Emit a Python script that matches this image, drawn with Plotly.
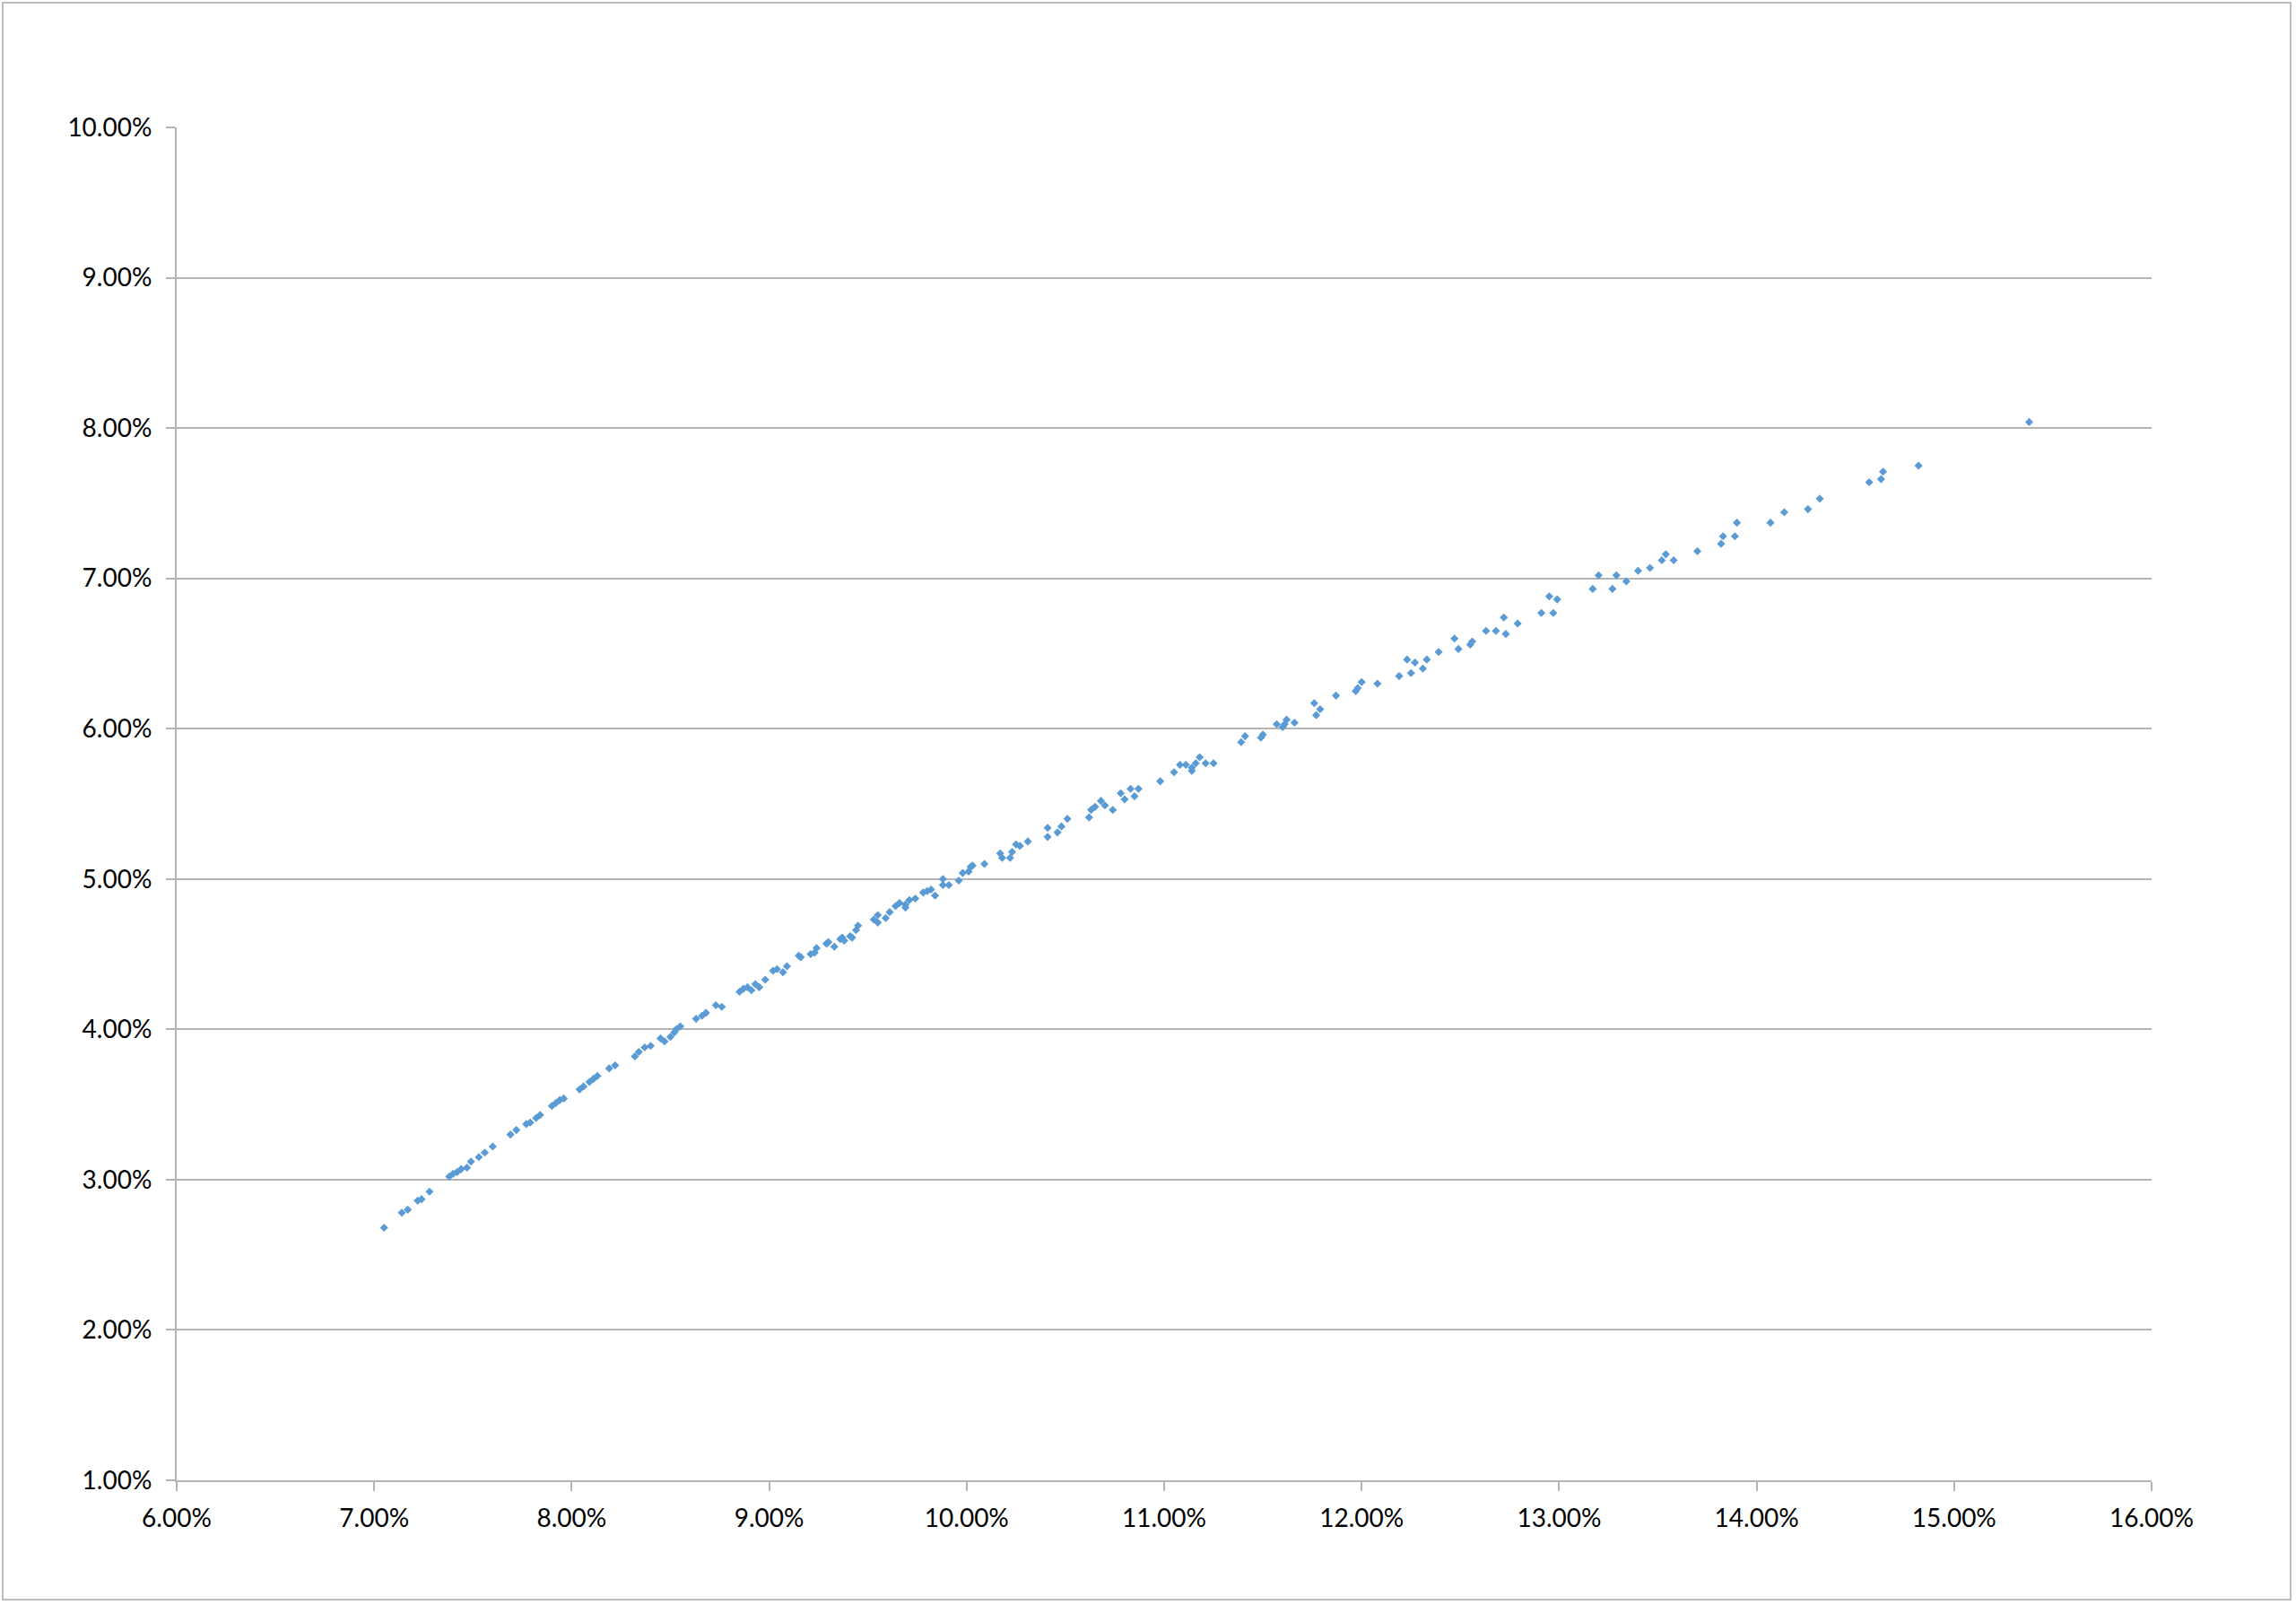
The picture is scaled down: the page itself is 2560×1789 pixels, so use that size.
import plotly.graph_objects as go

# Values (percent units)
x_vals = [
    7.05, 7.14, 7.17, 7.22, 7.24, 7.28, 7.38, 7.40, 7.42, 7.44, 7.47, 7.49, 7.53, 7.56, 7.60,
    7.69, 7.72, 7.77, 7.79, 7.82, 7.84, 7.90, 7.92, 7.94, 7.96, 8.04, 8.06, 8.09, 8.11, 8.13,
    8.19, 8.22, 8.32, 8.34, 8.37, 8.40, 8.45, 8.47, 8.50, 8.52, 8.53, 8.55, 8.63, 8.66, 8.68,
    8.73, 8.76, 8.85, 8.87, 8.89, 8.91, 8.93, 8.95, 8.98, 9.02, 9.04, 9.07, 9.09,
    9.16, 9.15, 9.21, 9.23, 9.24, 9.29, 9.30, 9.33, 9.36, 9.37, 9.38, 9.41, 9.42, 9.44, 9.45,
    9.53, 9.55, 9.55, 9.59, 9.61, 9.64, 9.66, 9.69, 9.69, 9.71, 9.74, 9.78, 9.80, 9.82, 9.84,
    9.88, 9.88, 9.91, 9.96, 9.98, 10.01, 10.02, 10.03, 10.09, 10.17, 10.18, 10.22, 10.23, 10.25,
    10.27, 10.31, 10.41, 10.41, 10.46, 10.48, 10.51, 10.62, 10.63, 10.65, 10.68, 10.70, 10.74,
    10.78, 10.80, 10.83, 10.85, 10.87, 10.98, 11.05, 11.08, 11.11, 11.14, 11.14, 11.16, 11.18,
    11.21, 11.25, 11.39, 11.41,
    11.49, 11.50, 11.57, 11.60, 11.61, 11.62, 11.66,
    11.76, 11.79, 11.77, 11.87, 11.97, 11.98, 12.00, 12.08, 12.19, 12.23, 12.25, 12.27, 12.31,
    12.33, 12.39, 12.47, 12.49, 12.55, 12.56, 12.63, 12.68, 12.72, 12.73, 12.79, 12.91, 12.95,
    12.97, 12.99, 13.17, 13.20, 13.27, 13.29, 13.34, 13.40, 13.46, 13.52, 13.54, 13.58, 13.70,
    13.82, 13.83, 13.89, 13.90, 14.07, 14.14, 14.26, 14.32,
    14.57, 14.63, 14.64, 14.82, 15.38,
]
y_vals = [
    2.68, 2.78, 2.80, 2.86, 2.87, 2.92, 3.02, 3.04, 3.05, 3.07, 3.08, 3.12, 3.15, 3.18, 3.22,
    3.30, 3.33, 3.37, 3.38, 3.41, 3.43, 3.49, 3.51, 3.53, 3.54, 3.60, 3.62, 3.65, 3.67, 3.69,
    3.74, 3.76, 3.82, 3.85, 3.88, 3.89, 3.94, 3.92, 3.95, 3.98, 4.00, 4.02, 4.07, 4.09, 4.11,
    4.16, 4.15, 4.25, 4.27, 4.28, 4.26, 4.30, 4.28, 4.33, 4.39, 4.40, 4.38, 4.42,
    4.48, 4.49, 4.50, 4.51, 4.54, 4.57, 4.58, 4.55, 4.60, 4.61, 4.59, 4.62, 4.61, 4.66, 4.69,
    4.73, 4.71, 4.76, 4.74, 4.78, 4.82, 4.84, 4.83, 4.81, 4.86, 4.87, 4.91, 4.92, 4.93, 4.89,
    5.00, 4.96, 4.96, 4.99, 5.04, 5.05, 5.08, 5.09, 5.10, 5.17, 5.14, 5.14, 5.18, 5.23,
    5.22, 5.25, 5.34, 5.28, 5.31, 5.35, 5.40, 5.41, 5.46, 5.48, 5.52, 5.49, 5.46,
    5.57, 5.53, 5.60, 5.55, 5.60, 5.65, 5.71, 5.76, 5.76, 5.72, 5.74, 5.77, 5.81,
    5.77, 5.77, 5.91, 5.95,
    5.94, 5.96, 6.03, 6.01, 6.03, 6.06, 6.04,
    6.17, 6.13, 6.09, 6.22, 6.25, 6.27, 6.31, 6.30, 6.35, 6.46, 6.37, 6.44, 6.40,
    6.46, 6.51, 6.60, 6.53, 6.56, 6.58, 6.65, 6.65, 6.74, 6.63, 6.70, 6.77, 6.88,
    6.77, 6.86, 6.93, 7.02, 6.93, 7.02, 6.98, 7.05, 7.07, 7.12, 7.16, 7.12, 7.18,
    7.23, 7.28, 7.28, 7.37, 7.37, 7.44, 7.46, 7.53,
    7.64, 7.66, 7.71, 7.75, 8.04,
]

x_ticks = [6, 7, 8, 9, 10, 11, 12, 13, 14, 15, 16]
x_tick_labels = ["6.00%", "7.00%", "8.00%", "9.00%", "10.00%", "11.00%",
                 "12.00%", "13.00%", "14.00%", "15.00%", "16.00%"]
y_ticks = [1, 2, 3, 4, 5, 6, 7, 8, 9, 10]
y_tick_labels = ["1.00%", "2.00%", "3.00%", "4.00%", "5.00%",
                 "6.00%", "7.00%", "8.00%", "9.00%", "10.00%"]
x_range = [6, 16]
y_range = [1, 10]

W, H = 2560, 1789
ML, MR, MT, MB = 197, 161, 142, 139
PW, PH = W - ML - MR, H - MT - MB

GRID = "#b4b4b4"
FONT = "Lato, 'Open Sans', sans-serif"

fig = go.Figure(
    go.Scatter(
        x=x_vals, y=y_vals, mode="markers",
        marker=dict(symbol="diamond", size=7, color="#5B9BD5", line=dict(width=0)),
        hoverinfo="x+y", showlegend=False,
    )
)

axis_common = dict(
    showline=True, linecolor=GRID, linewidth=2,
    ticks="outside", ticklen=10, tickwidth=2, tickcolor=GRID,
    zeroline=False,
    tickfont=dict(family=FONT, size=28, color="#000000"),
)

fig.update_xaxes(range=x_range, tickvals=x_ticks, ticktext=x_tick_labels,
                 showgrid=False, ticklabelstandoff=6, **axis_common)
fig.update_yaxes(range=y_range, tickvals=y_ticks, ticktext=y_tick_labels, showgrid=True,
                 gridcolor=GRID, gridwidth=2, ticklabelstandoff=10, **axis_common)

# outer chart border (page px: 3..2554 horizontally, 2..1783 vertically)
fig.add_shape(
    type="rect", xref="paper", yref="paper",
    x0=(3 - ML) / PW, x1=(2554 - ML) / PW,
    y0=((H - MB) - 1783) / PH, y1=((H - MB) - 3) / PH,
    line=dict(color="#bdbdbd", width=2), fillcolor="rgba(0,0,0,0)", layer="below",
)

fig.update_layout(
    width=W, height=H,
    margin=dict(l=ML, r=MR, t=MT, b=MB, pad=0),
    paper_bgcolor="white", plot_bgcolor="white",
    font=dict(family=FONT, size=28, color="#000000"),
)

fig.write_html(
    "out.html",
    config={"displayModeBar": False},
    post_script="document.body.style.margin='0';document.body.style.overflow='hidden';",
)
